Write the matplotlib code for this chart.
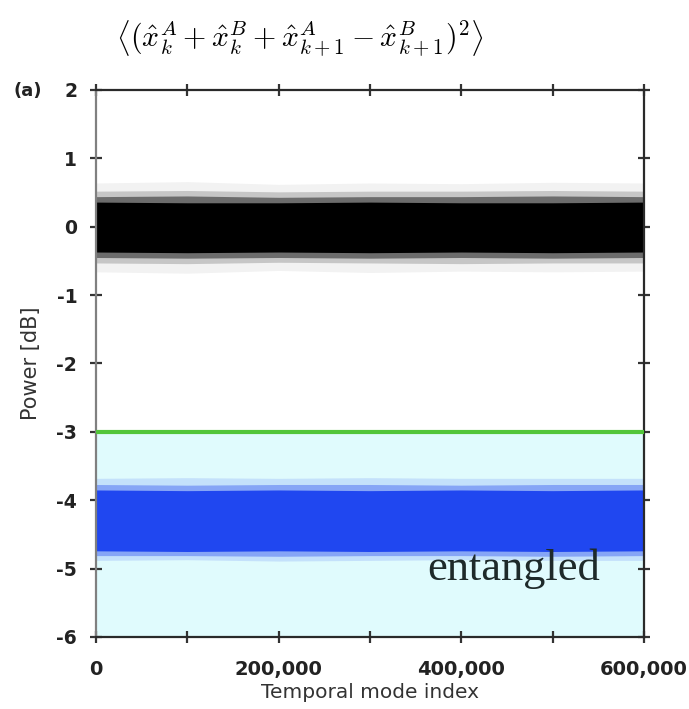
import matplotlib
matplotlib.use("Agg")
import matplotlib.pyplot as plt
from matplotlib.ticker import MultipleLocator

plt.rcParams['mathtext.fontset'] = 'cm'

# ---- data ----
x_pts = [0, 100000, 200000, 300000, 400000, 500000, 600000]
# black band: envelopes in dB (core, inner fringe, mid fringe, sparse outliers)
black_core_hi = [0.36, 0.35, 0.35, 0.36, 0.35, 0.35, 0.36]
black_core_lo = [-0.37, -0.38, -0.37, -0.38, -0.37, -0.38, -0.37]
black_inner_hi = [0.44, 0.45, 0.43, 0.44, 0.44, 0.45, 0.44]
black_inner_lo = [-0.45, -0.46, -0.45, -0.46, -0.45, -0.46, -0.45]
black_fringe_hi = [0.52, 0.53, 0.51, 0.52, 0.52, 0.53, 0.52]
black_fringe_lo = [-0.53, -0.54, -0.52, -0.53, -0.54, -0.53, -0.53]
black_outer_hi = [0.64, 0.66, 0.62, 0.64, 0.63, 0.65, 0.64]
black_outer_lo = [-0.66, -0.68, -0.64, -0.67, -0.65, -0.66, -0.65]
# blue band
blue_core_hi = [-3.85, -3.86, -3.85, -3.86, -3.85, -3.86, -3.85]
blue_core_lo = [-4.74, -4.75, -4.74, -4.75, -4.74, -4.75, -4.74]
blue_inner_hi = [-3.77, -3.78, -3.77, -3.77, -3.78, -3.77, -3.77]
blue_inner_lo = [-4.81, -4.81, -4.82, -4.81, -4.81, -4.82, -4.81]
blue_fringe_hi = [-3.68, -3.67, -3.68, -3.67, -3.68, -3.68, -3.68]
blue_fringe_lo = [-4.88, -4.87, -4.89, -4.88, -4.87, -4.88, -4.88]
threshold_db = -3.0
x_min, x_max = 0, 600000
y_min, y_max = -6, 2
x_ticks = [0, 200000, 400000, 600000]
x_tick_labels = ['0', '200,000', '400,000', '600,000']
y_ticks = [-6, -5, -4, -3, -2, -1, 0, 1, 2]

fig = plt.figure(figsize=(6.89, 7.09), dpi=100)
ax = fig.add_axes([0.1393, 0.1016, 0.7954, 0.7715])

# entangled region
ax.fill_between([x_min, x_max], [y_min, y_min], [threshold_db, threshold_db],
                color='#e0fbfd', zorder=0)
ax.axhline(threshold_db, color='#52c53a', lw=3, zorder=3)

# black band
ax.fill_between(x_pts, black_outer_lo, black_outer_hi, color='black', alpha=0.05, lw=0, zorder=2)
ax.fill_between(x_pts, black_fringe_lo, black_fringe_hi, color='black', alpha=0.18, lw=0, zorder=2)
ax.fill_between(x_pts, black_inner_lo, black_inner_hi, color='black', alpha=0.45, lw=0, zorder=2)
ax.fill_between(x_pts, black_core_lo, black_core_hi, color='black', alpha=1.0, lw=0, zorder=2)

# blue band
ax.fill_between(x_pts, blue_fringe_lo, blue_fringe_hi, color='#2a4df0', alpha=0.15, lw=0, zorder=2)
ax.fill_between(x_pts, blue_inner_lo, blue_inner_hi, color='#2a4df0', alpha=0.4, lw=0, zorder=2)
ax.fill_between(x_pts, blue_core_lo, blue_core_hi, color='#2047f0', alpha=1.0, lw=0, zorder=2)

ax.set_xlim(x_min, x_max)
ax.set_ylim(y_min, y_max)
ax.set_xticks(x_ticks)
ax.set_xticklabels(x_tick_labels)
ax.xaxis.set_minor_locator(MultipleLocator(100000))
ax.set_yticks(y_ticks)
ax.set_yticklabels([str(v) for v in y_ticks])

for s in ax.spines.values():
    s.set_color('#2a2a2a')
    s.set_linewidth(1.6)
ax.spines['left'].set_color('#808080')

ax.tick_params(which='both', direction='inout', top=True, right=True,
               length=9, width=1.6, color='#333333', labelcolor='#222222')
ax.tick_params(axis='x', which='major', pad=12)
ax.tick_params(axis='y', which='major', pad=9)
for lab in ax.get_xticklabels():
    lab.set_fontweight('bold')
    lab.set_family('DejaVu Sans')
    lab.set_fontsize(14)
for lab in ax.get_yticklabels():
    lab.set_fontweight('bold')
    lab.set_family('DejaVu Sans')
    lab.set_fontsize(13.5)

ax.set_xlabel('Temporal mode index', fontsize=14.5, color='#333333', labelpad=3,
              family='DejaVu Sans')
ax.set_ylabel('Power [dB]', fontsize=15, color='#333333', labelpad=11,
              family='DejaVu Sans')

ax.text(0.92, -5.0, 'entangled', transform=ax.get_yaxis_transform(),
        ha='right', va='center', fontsize=32, family='Liberation Serif', color='#1e2a2a',
        zorder=4)

fig.text(0.435, 0.945,
         r'$\left\langle(\hat{x}^A_k+\hat{x}^B_k+\hat{x}^A_{k+1}-\hat{x}^B_{k+1})^2\right\rangle$',
         ha='center', va='center', fontsize=21.5)
fig.text(0.02, 0.872, '(a)', fontsize=13, fontweight='bold', color='#222222', va='center',
         family='DejaVu Sans')

fig.savefig('out.png', dpi=100)
